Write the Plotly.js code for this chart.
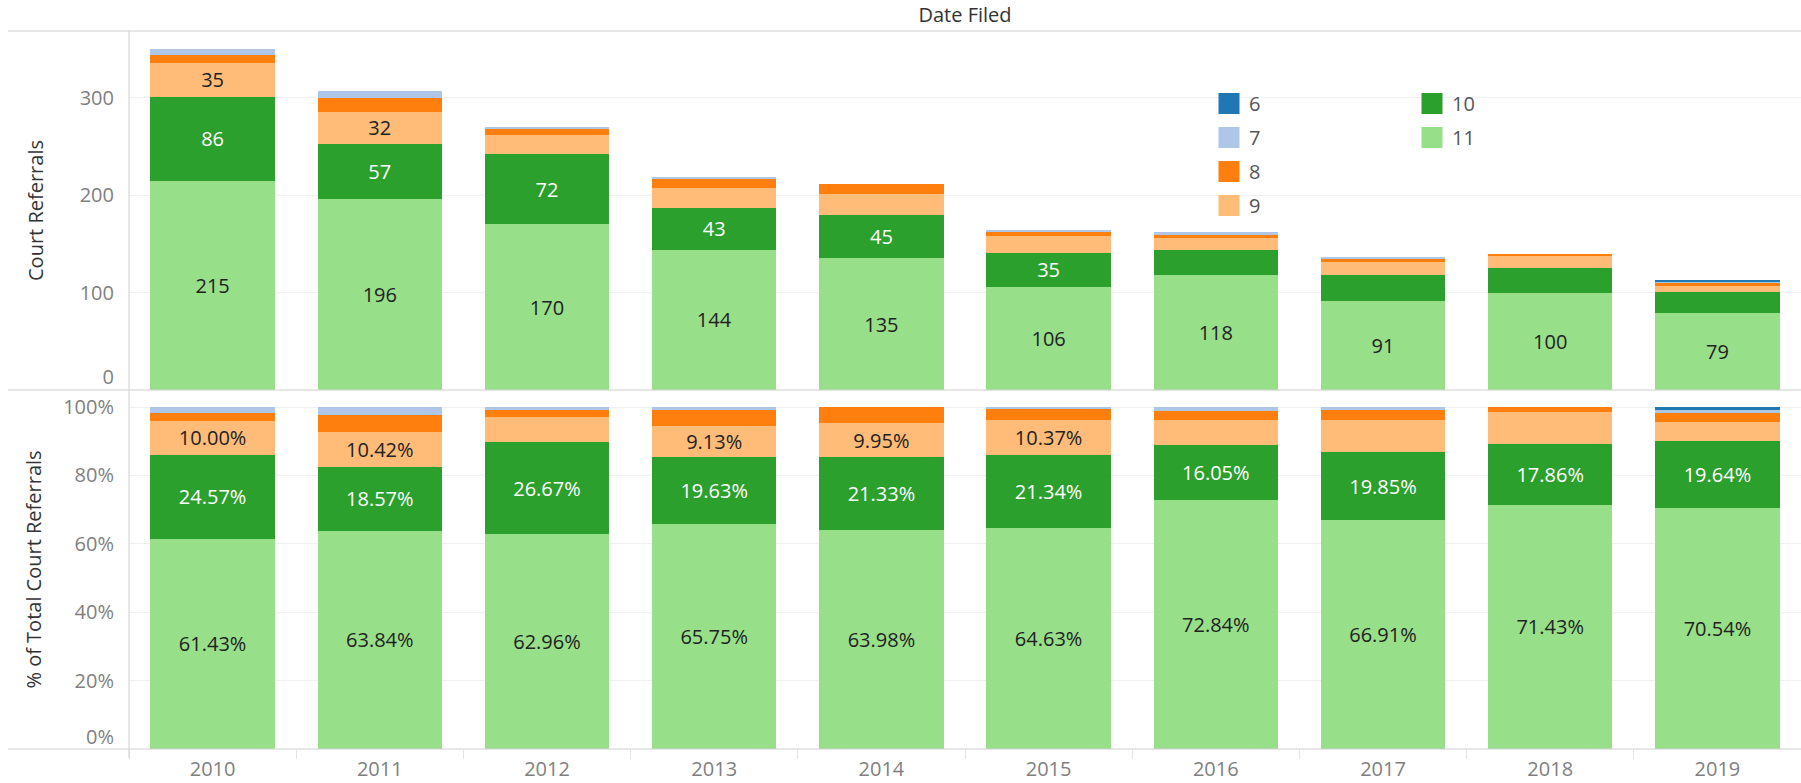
<!DOCTYPE html>
<html>
<head>
<meta charset="utf-8">
<script src="https://cdn.plot.ly/plotly-3.0.1.min.js"></script>
<style>html,body{margin:0;padding:0;background:#fff;}#chart{width:1801px;height:783px;}</style>
</head>
<body>
<div id="chart"></div>
<script>
// ---- data ----
const years = ['2010','2011','2012','2013','2014','2015','2016','2017','2018','2019'];
const c11 = [215,196,170,144,135,106,118,91,100,79];
const c10 = [86,57,72,43,45,35,26,27,25,22];
const c9  = [35,32,20,20,21,17,12,13,13,6];
const c8  = [8,15,6,10,10,5,4,4,2,3];
const c7  = [6,7,2,2,0,1,2,1,0,1];
const c6  = [0,0,0,0,0,0,0,0,0,1];
const seriesNames = ['6','7','8','9','10','11'];
// which segment labels are shown
const showCount10 = [1,1,1,1,1,1,0,0,0,0];
const showCount9  = [1,1,0,0,0,0,0,0,0,0];
const showPct9    = [1,1,0,1,1,1,0,0,0,0];
const countTicks = [100,200,300];
const pctTicks = [0.2,0.4,0.6,0.8,1.0];

const colors = {'6':'#1f77b4','7':'#aec7e8','8':'#ff7f0e','9':'#ffbb78','10':'#2ca02c','11':'#98df8a'};
const textColors = {'6':'#222','7':'#222','8':'#222','9':'#222','10':'#ffffff','11':'#222'};
const counts = {'6':c6,'7':c7,'8':c8,'9':c9,'10':c10,'11':c11};
const totals = years.map((_, i) => seriesNames.reduce((s, k) => s + counts[k][i], 0));

const FONT = '"Open Sans", verdana, arial, sans-serif';
const traces = [];
const stackOrder = ['11','10','9','8','7','6'];

stackOrder.forEach(k => {
  const vals = counts[k];
  const txt = vals.map((v, i) => {
    if (k === '11') return String(v);
    if (k === '10' && showCount10[i]) return String(v);
    if (k === '9' && showCount9[i]) return String(v);
    return '';
  });
  traces.push({
    type:'bar', x: years, y: vals, xaxis:'x', yaxis:'y',
    name: k, legendgroup: 'g'+k, showlegend: false,
    marker:{color: colors[k], line:{width:0}},
    text: txt, textposition:'inside', insidetextanchor:'middle',
    constraintext:'none', textangle:0,
    textfont:{size:20, color: textColors[k], family: FONT},
    hovertemplate: 'Year %{x}<br>'+k+': %{y}<extra></extra>'
  });
});

stackOrder.forEach(k => {
  const vals = counts[k];
  const pct = vals.map((v, i) => v / totals[i]);
  const txt = pct.map((p, i) => {
    const s = (p*100).toFixed(2) + '%';
    if (k === '11' || k === '10') return s;
    if (k === '9' && showPct9[i]) return s;
    return '';
  });
  traces.push({
    type:'bar', x: years, y: pct, xaxis:'x', yaxis:'y2',
    name: k, legendgroup: 'g'+k, showlegend: false,
    marker:{color: colors[k], line:{width:0}},
    text: txt, textposition:'inside', insidetextanchor:'middle',
    constraintext:'none', textangle:0,
    textfont:{size:20, color: textColors[k], family: FONT},
    hovertemplate: 'Year %{x}<br>'+k+': %{y:.2%}<extra></extra>'
  });
});

// legend entries (two columns)
seriesNames.forEach(k => {
  traces.push({
    type:'scatter', x:[null], y:[null], xaxis:'x', yaxis:'y', mode:'markers',
    name: k, legendgroup:'g'+k, showlegend:true,
    legend: (['6','7','8','9'].indexOf(k) >= 0) ? 'legend' : 'legend2',
    marker:{symbol:'square', size:16, color: colors[k], line:{width:5, color: colors[k]}},
    hoverinfo:'skip'
  });
});
// carriers for the separate zero-label axes
traces.push({type:'scatter', x:[null], y:[null], xaxis:'x', yaxis:'y3', showlegend:false, hoverinfo:'skip', mode:'markers'});
traces.push({type:'scatter', x:[null], y:[null], xaxis:'x', yaxis:'y4', showlegend:false, hoverinfo:'skip', mode:'markers'});

const W = 1801, H = 783, ML = 129, MR = 0, MT = 31, MB = 34;
const PW = W - ML - MR, PH = H - MT - MB;
const px2x = p => (p - ML) / PW;
const py2y = p => (H - MB - p) / PH;
const lineCol = '#cfcfcf';
const tickFont = {size:20, color:'#7f7f7f'};
const topRange = [0, 368.5], botRange = [0, 1.0497];

const layout = {
  width: W, height: H,
  margin:{l:ML, r:MR, t:MT, b:MB, pad:0},
  paper_bgcolor:'#fff', plot_bgcolor:'#fff',
  font:{family: FONT, size:20, color:'#555'},
  barmode:'stack', bargap:0.255,
  title:{text:'Date Filed', x: 965/W, xref:'container', xanchor:'center',
         y: 1 - 15/H, yref:'container', yanchor:'middle',
         font:{size:20, color:'#333', family: FONT}},
  xaxis:{type:'category', anchor:'y2', domain:[0,1], range:[-0.5, 9.5],
         tickson:'boundaries', ticks:'outside', ticklen:9, tickcolor:'#e3e3e3', tickwidth:1,
         ticklabelstandoff:6,
         tickfont:tickFont, showgrid:false, showline:false, zeroline:false,
         fixedrange:true},
  yaxis:{domain:[0.5,1], range:topRange, tickvals:countTicks,
         showgrid:true, gridcolor:'#f0f0f0', gridwidth:1, zeroline:false, showline:false,
         ticks:'', ticklabelstandoff:14, tickfont:tickFont,
         title:{text:'Court Referrals', standoff:30, font:{size:20, color:'#333'}},
         fixedrange:true},
  yaxis3:{overlaying:'y', anchor:'x', side:'left', range:topRange, tickvals:[0],
         showgrid:false, zeroline:false, showline:false, ticks:'',
         ticklabelstandoff:14, ticklabelshift:-13, tickfont:tickFont, fixedrange:true},
  yaxis2:{domain:[0,0.5], range:botRange, tickvals:pctTicks, tickformat:'.0%',
         showgrid:true, gridcolor:'#f0f0f0', gridwidth:1, zeroline:false, showline:false,
         ticks:'', ticklabelstandoff:14, tickfont:tickFont,
         title:{text:'% of Total Court Referrals', standoff:16, font:{size:20, color:'#333'}},
         fixedrange:true},
  yaxis4:{overlaying:'y2', anchor:'x', side:'left', range:botRange, tickvals:[0], tickformat:'.0%',
         showgrid:false, zeroline:false, showline:false, ticks:'',
         ticklabelstandoff:14, ticklabelshift:-12, tickfont:tickFont, fixedrange:true},
  legend:{x: px2x(1209), xanchor:'left', y: py2y(84), yanchor:'top',
          orientation:'v', traceorder:'grouped', tracegroupgap:5,
          font:{size:20, color:'#555'}, bgcolor:'rgba(0,0,0,0)', borderwidth:0},
  legend2:{x: px2x(1412), xanchor:'left', y: py2y(84), yanchor:'top',
          orientation:'v', traceorder:'grouped', tracegroupgap:5,
          font:{size:20, color:'#555'}, bgcolor:'rgba(0,0,0,0)', borderwidth:0},
  showlegend:true,
  shapes:[
    {type:'line', xref:'paper', yref:'paper', x0: px2x(8), x1:1, y0:1, y1:1, line:{color:lineCol, width:1}},
    {type:'line', xref:'paper', yref:'paper', x0: px2x(8), x1:1, y0:0.5, y1:0.5, line:{color:lineCol, width:1}},
    {type:'line', xref:'paper', yref:'paper', x0: px2x(8), x1:1, y0:0, y1:0, line:{color:lineCol, width:1}},
    {type:'line', xref:'paper', yref:'paper', x0:0, x1:0, y0: py2y(758), y1:1, line:{color:lineCol, width:1}}
  ]
};

Plotly.newPlot('chart', traces, layout, {displayModeBar:false, responsive:false});
</script>
</body>
</html>
